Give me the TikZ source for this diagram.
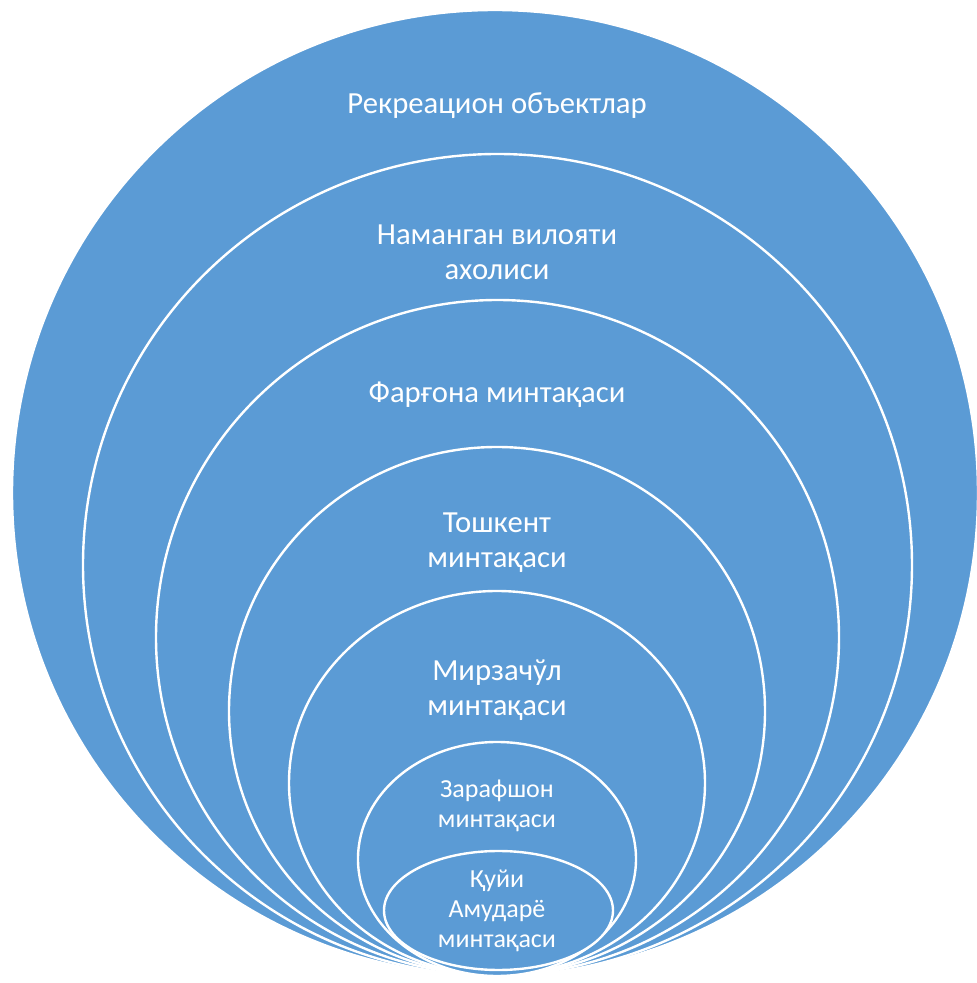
\documentclass[tikz,border=0pt]{standalone}
\usepackage{fontspec}
\setmainfont{Carlito}
\definecolor{ringblue}{RGB}{91,155,213}
\tikzset{
  ring/.style={fill=ringblue, draw=white, line width=1.8pt},
  biglabel/.style={text=white, align=center, inner sep=0pt,
    font=\fontsize{23}{26.5}\selectfont},
  smalllabel/.style={text=white, align=center, inner sep=0pt,
    font=\fontsize{19.5}{22.5}\selectfont}
}
\begin{document}
\begin{tikzpicture}[x=0.75pt,y=0.75pt]
\useasboundingbox (0,0) rectangle (976,983);
%%Ringe von aussen nach innen
\draw[ring] (495,490) ellipse [x radius=483, y radius=483];
\draw[ring] (497.5,418) ellipse [x radius=414.5, y radius=411];
\draw[ring] (497.5,345.5) ellipse [x radius=341.5, y radius=337.5];
\draw[ring] (497,272) ellipse [x radius=268, y radius=264];
\draw[ring] (497,200) ellipse [x radius=208, y radius=192];
\draw[ring] (497,124) ellipse [x radius=139, y radius=117];
\draw[ring] (498.5,72.5) ellipse [x radius=114.5, y radius=59.5];
%%Beschriftung
\node[biglabel] (rekreatsion) at (497,877) {Рекреацион объектлар};
\node[biglabel] (namangan) at (497,731) {Наманган вилояти\\ахолиси};
\node[biglabel] (fargona) at (497,588) {Фарғона минтақаси};
\node[biglabel] (toshkent) at (497,440) {Тошкент\\минтақаси};
\node[biglabel] (mirzachul) at (497,293) {Мирзачўл\\минтақаси};
\node[smalllabel] (zarafshon) at (497,177) {Зарафшон\\минтақаси};
\node[smalllabel] (amudaryo) at (497,72) {Қуйи\\Амударё\\минтақаси};
\end{tikzpicture}
\end{document}
